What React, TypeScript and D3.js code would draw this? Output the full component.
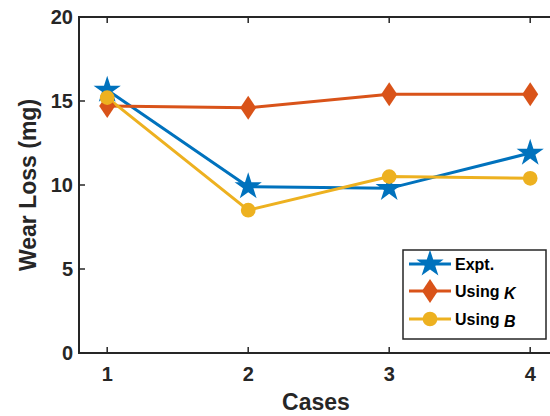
import * as d3 from 'd3';
import React, { useEffect, useRef } from 'react';

const cases = [1, 2, 3, 4];
const expt = [15.65, 9.9, 9.8, 11.9];
const usingK = [14.7, 14.6, 15.4, 15.4];
const usingB = [15.2, 8.5, 10.5, 10.4];
const yTicks = [0, 5, 10, 15, 20];

const series = [
    { name: 'Expt.', italic: '', values: expt, color: '#0072BD', marker: 'star' },
    { name: 'Using ', italic: 'K', values: usingK, color: '#D95319', marker: 'diamond' },
    { name: 'Using ', italic: 'B', values: usingB, color: '#EDB120', marker: 'circle' },
];

const width = 550;
const height = 416;
const margin = { left: 79, top: 17, right: 0, bottom: 63 };
const font = '"Liberation Sans", Arial, sans-serif';
const axisColor = '#262626';

function markerPath(type: string) {
    if (type === 'star') return d3.symbol(d3.symbolStar, 230)();
    if (type === 'diamond') {
        return 'M0,-12L8,0L0,12L-8,0Z';
    }
    return d3.symbol(d3.symbolCircle, 170)();
}

export default function App() {
    const ref = useRef<SVGSVGElement>(null);

    useEffect(() => {
        const svg = d3.select(ref.current);
        svg.selectAll('*').remove();

        const x = d3.scaleLinear().domain([0.8, 4.2]).range([margin.left, margin.left + 141 * 3.4]);
        const y = d3.scaleLinear().domain([0, 20]).range([height - margin.bottom, margin.top]);
        const x0 = x.range()[0], x1 = x.range()[1];
        const y0 = y.range()[0], y1 = y.range()[1];

        const g = svg.append('g');

        // box
        g.append('rect')
            .attr('x', x0).attr('y', y1)
            .attr('width', x1 - x0).attr('height', y0 - y1)
            .attr('fill', 'none').attr('stroke', axisColor).attr('stroke-width', 2);

        // x ticks
        cases.forEach(c => {
            g.append('line').attr('x1', x(c)).attr('x2', x(c)).attr('y1', y0).attr('y2', y0 - 6)
                .attr('stroke', axisColor).attr('stroke-width', 1.5);
            g.append('line').attr('x1', x(c)).attr('x2', x(c)).attr('y1', y1).attr('y2', y1 + 6)
                .attr('stroke', axisColor).attr('stroke-width', 1.5);
            g.append('text').attr('x', x(c)).attr('y', y0 + 28)
                .attr('text-anchor', 'middle')
                .attr('font-family', font).attr('font-weight', 'bold').attr('font-size', 20)
                .attr('fill', axisColor).text(c);
        });

        // y ticks
        yTicks.forEach(t => {
            g.append('line').attr('x1', x0).attr('x2', x0 + 6).attr('y1', y(t)).attr('y2', y(t))
                .attr('stroke', axisColor).attr('stroke-width', 1.5);
            g.append('text').attr('x', x0 - 6).attr('y', y(t) + 7)
                .attr('text-anchor', 'end')
                .attr('font-family', font).attr('font-weight', 'bold').attr('font-size', 20)
                .attr('fill', axisColor).text(t);
        });

        // axis labels
        g.append('text').attr('x', 316).attr('y', 410)
            .attr('text-anchor', 'middle')
            .attr('font-family', font).attr('font-weight', 'bold').attr('font-size', 23)
            .attr('fill', axisColor).text('Cases');
        g.append('text')
            .attr('transform', `translate(36, 185) rotate(-90)`)
            .attr('text-anchor', 'middle')
            .attr('font-family', font).attr('font-weight', 'bold').attr('font-size', 23)
            .attr('fill', axisColor).text('Wear Loss (mg)');

        const line = d3.line<number>().x((_, i) => x(cases[i])).y(d => y(d));

        series.forEach(s => {
            g.append('path').attr('d', line(s.values))
                .attr('fill', 'none').attr('stroke', s.color).attr('stroke-width', 3);
        });
        series.forEach(s => {
            g.selectAll(null).data(s.values).enter().append('path')
                .attr('d', markerPath(s.marker))
                .attr('transform', (d, i) => `translate(${x(cases[i])},${y(d)})`)
                .attr('fill', s.color);
        });

        // legend
        const lg = svg.append('g');
        lg.append('rect').attr('x', 403).attr('y', 250).attr('width', 143).attr('height', 89)
            .attr('fill', 'white').attr('stroke', axisColor).attr('stroke-width', 1.5);
        const rows = [264, 291, 319];
        series.forEach((s, i) => {
            const ly = rows[i];
            lg.append('line').attr('x1', 409).attr('x2', 451).attr('y1', ly).attr('y2', ly)
                .attr('stroke', s.color).attr('stroke-width', 3);
            lg.append('path').attr('d', markerPath(s.marker))
                .attr('transform', `translate(430,${ly})`).attr('fill', s.color);
            const t = lg.append('text').attr('x', 455).attr('y', ly + 6)
                .attr('font-family', font).attr('font-weight', 'bold').attr('font-size', 16)
                .attr('fill', '#000');
            t.append('tspan').text(s.name);
            if (s.italic) t.append('tspan').attr('font-style', 'italic').attr('dy', 2).text(s.italic);
        });
    }, []);

    return (
        <svg ref={ref} width={width} height={height}
            style={{ position: 'absolute', left: 0, top: 0, background: 'white' }} />
    );
}
